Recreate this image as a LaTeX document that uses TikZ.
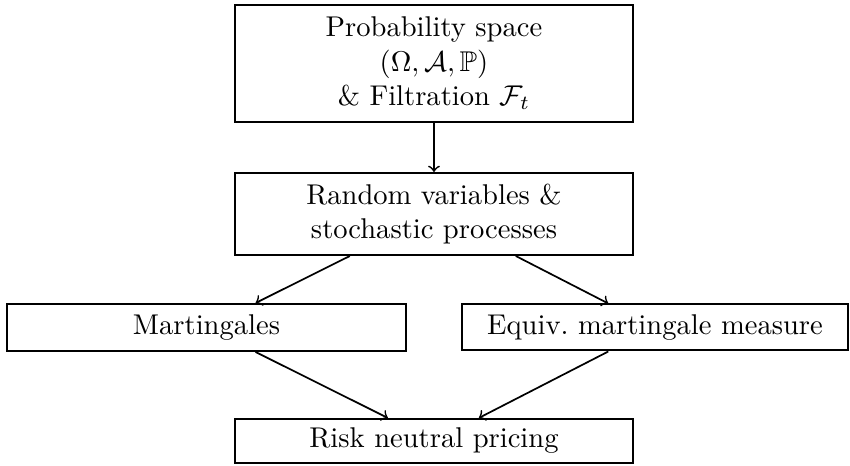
\documentclass[tikz,border=0pt]{standalone}
\usepackage{amssymb}
\begin{document}
\begin{tikzpicture}[x=0.35pt,y=-0.35pt,
  box/.style={draw,line width=0.7pt,inner sep=0pt,align=center},
  conn/.style={->,line width=0.6pt}]
\useasboundingbox (0,0) rectangle (850,466);
\node[box,minimum width=139.3pt,minimum height=40.95pt] (ps) at (434,63.5)
  {Probability space\\$(\Omega,\mathcal{A},\mathbb{P})$\\\& Filtration $\mathcal{F}_t$};
\node[box,minimum width=139.3pt,minimum height=28.7pt] (rv) at (434,214)
  {Random variables \&\\stochastic processes};
\node[box,minimum width=139.65pt,minimum height=16.45pt] (mg) at (206.5,327.5)
  {Martingales};
\node[box,minimum width=135.1pt,minimum height=16.1pt] (em) at (655,327.5)
  {Equiv.\ martingale measure};
\node[box,minimum width=139.3pt,minimum height=15.4pt] (rn) at (434,441)
  {Risk neutral pricing};
\draw[conn] (ps) -- (rv);
\draw[conn] (rv) -- (mg);
\draw[conn] (rv) -- (em);
\draw[conn] (mg) -- (rn);
\draw[conn] (em) -- (rn);
\end{tikzpicture}
\end{document}
